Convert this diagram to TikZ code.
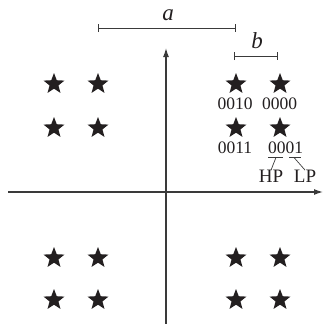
\documentclass[tikz,border=0pt]{standalone}
\usepackage{fontspec}
\setmainfont{Liberation Serif}
\usetikzlibrary{shapes.geometric,arrows.meta}
\definecolor{ink}{HTML}{231F20}
\definecolor{axis}{HTML}{3A3A3A}
\tikzset{
  pt/.style={star, star points=5, star point ratio=2.35, minimum size=22pt, inner sep=0pt, fill=ink, draw=none},
  lbl/.style={font=\fontsize{17.5}{17.5}\selectfont, text=ink, inner sep=0pt},
  big/.style={font=\fontsize{19}{19}\selectfont, text=ink, inner sep=0pt},
  ital/.style={font=\fontsize{23}{23}\selectfont\itshape, text=ink, inner sep=0pt},
  ax/.style={draw=axis, line width=1.3pt, -{Latex[length=9pt,width=6pt]}},
  dim/.style={draw=axis, line width=0.9pt, {Bar[width=8pt]}-{Bar[width=8pt]}},
  thin/.style={draw=axis, line width=0.7pt}
}
\begin{document}
\begin{tikzpicture}[x=1pt,y=-1pt]
\useasboundingbox (0,0) rectangle (323,324);
% axes
\coordinate (xl) at (8,192);
\coordinate (xr) at (323,192);
\coordinate (yb) at (166,324);
\coordinate (yt) at (166,48);
\draw[ax] (xl) -- (xr);
\draw[ax] (yb) -- (yt);
% dimension bars
\coordinate (a1) at (98,28);
\coordinate (a2) at (236,28);
\draw[dim] (a1) -- (a2);
\node[ital] (la) at (168,15) {a};
\coordinate (b1) at (234,56);
\coordinate (b2) at (278,56);
\draw[dim] (b1) -- (b2);
\node[ital] (lb) at (257,41) {b};
% stars
\foreach \x/\xn in {54/A,98/B,236/C,280/D}
  \foreach \y/\yn in {84/1,128/2,258/3,300/4}
    \node[pt] (s\xn\yn) at (\x,\y) {};
% labels
\node[lbl] (t0010) at (235,103.5) {0010};
\node[lbl] (t0000) at (279.5,103.5) {0000};
\node[lbl] (t0011) at (235,147.5) {0011};
\node[lbl] (t0001) at (285.5,147.5) {0001};
\node[big] (hp) at (271,176.5) {HP};
\node[big] (lp) at (305,176.5) {LP};
% underlines and leaders
\coordinate (u1a) at (268,157.5);
\coordinate (u1b) at (283,157.5);
\coordinate (u2a) at (289,157.5);
\coordinate (u2b) at (301,157.5);
\draw[thin] (u1a) -- (u1b);
\draw[thin] (u2a) -- (u2b);
\coordinate (m1) at (276,157.5);
\coordinate (m2) at (294,157.5);
\draw[thin] (m1) -- (hp.north);
\draw[thin] (m2) -- (lp.north);
\end{tikzpicture}
\end{document}
